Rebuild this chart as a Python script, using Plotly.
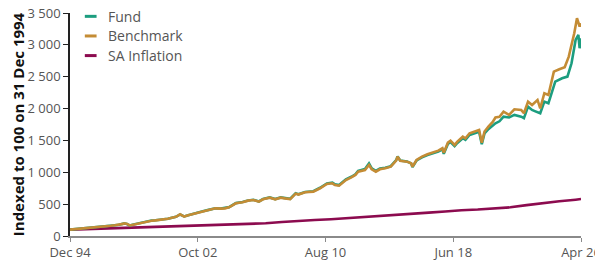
import pandas as pd
import plotly.graph_objects as go

# Months elapsed since Dec 1994 and index values
bench_months = [0, 3, 6, 9, 12, 15, 18, 21, 24, 27, 30, 33, 36, 39, 40, 42, 44, 46, 48, 51,
                54, 57, 60, 63, 66, 69, 72, 75, 78, 81, 84, 87, 90, 92, 97, 102, 107, 111, 114, 117,
                122, 127, 131, 135, 139, 142, 147, 151, 155, 158, 162, 166, 168, 173, 179, 184, 189, 193, 195, 198,
                203, 207, 210, 212, 217, 220, 222, 225, 228, 232, 236, 240, 241, 243, 248, 251, 252, 255, 259, 263,
                267, 271, 274, 275, 278, 280, 283, 285, 289, 291, 294, 298, 301, 303, 305, 308, 311, 313, 316, 319,
                323, 327, 332, 334, 337, 340, 344, 346, 349, 352, 356, 360, 364, 367, 371, 373, 375, 376]
bench_values = [100, 105, 110, 114, 120, 125, 130, 133, 140, 150, 160, 168, 175, 190, 200, 190, 165, 175, 185, 195,
                210, 225, 240, 245, 250, 262, 270, 285, 300, 340, 305, 325, 345, 356, 382, 408, 434, 430, 434, 450,
                513, 529, 555, 565, 539, 576, 602, 576, 602, 591, 580, 665, 650, 686, 696, 749, 816, 827, 800, 790,
                879, 920, 958, 1010, 1036, 1115, 1047, 1010, 1047, 1063, 1088, 1182, 1245, 1182, 1167, 1141, 1088, 1193, 1245, 1282,
                1308, 1340, 1377, 1308, 1465, 1496, 1429, 1481, 1559, 1534, 1612, 1638, 1664, 1465, 1640, 1720, 1790, 1860, 1870, 1952,
                1900, 1989, 1978, 1926, 2109, 2057, 2135, 2004, 2240, 2214, 2580, 2617, 2648, 2815, 3182, 3418, 3286, 3340]

fund_months = [0, 3, 6, 9, 12, 15, 18, 21, 24, 27, 30, 33, 36, 39, 40, 42, 44, 46, 48, 51,
               54, 57, 60, 63, 66, 69, 72, 75, 78, 81, 84, 87, 90, 92, 97, 102, 107, 111, 114, 117,
               122, 127, 131, 135, 139, 142, 147, 151, 155, 158, 162, 166, 168, 173, 179, 184, 189, 193, 195, 198,
               203, 207, 210, 212, 217, 220, 222, 225, 228, 232, 236, 240, 241, 243, 248, 251, 252, 255, 259, 263,
               267, 271, 274, 275, 278, 280, 283, 285, 289, 291, 294, 298, 301, 303, 305, 308, 311, 313, 316, 319,
               323, 327, 332, 334, 337, 340, 342, 346, 349, 352, 357, 362, 366, 369, 372, 374, 375, 376]
fund_values = [100, 106, 111, 115, 121, 126, 131, 135, 142, 152, 161, 170, 177, 192, 198, 188, 163, 176, 186, 197,
               212, 226, 242, 247, 252, 264, 272, 287, 302, 338, 307, 327, 347, 358, 384, 410, 436, 432, 437, 453,
               516, 532, 558, 568, 542, 580, 606, 580, 606, 595, 584, 670, 655, 692, 703, 757, 825, 838, 810, 800,
               890, 930, 968, 1022, 1050, 1140, 1060, 1022, 1058, 1072, 1095, 1190, 1250, 1185, 1170, 1140, 1080, 1185, 1235, 1270,
               1295, 1325, 1360, 1290, 1445, 1475, 1410, 1460, 1535, 1510, 1585, 1610, 1635, 1440, 1610, 1680, 1730, 1769, 1800, 1873,
               1860, 1900, 1873, 1850, 2030, 1978, 1960, 1926, 2109, 2083, 2423, 2476, 2502, 2711, 3077, 3156, 2947, 3104]

infl_months = [0, 12, 24, 36, 48, 60, 72, 84, 96, 108, 120, 132, 144, 156, 168, 180, 192, 204,
               216, 228, 240, 252, 264, 276, 282, 288, 300, 312, 324, 336, 348, 360, 372, 376]
infl_values = [100, 109, 116, 124, 133, 137, 145, 152, 166, 172, 180, 188, 200, 220, 240, 250, 262, 278,
               293, 310, 325, 345, 367, 385, 400, 405, 415, 428, 450, 485, 520, 545, 570, 580]

tick_months = [0, 94, 188, 282, 376]
tick_labels = ["Dec 94", "Oct 02", "Aug 10", "Jun 18", "Apr 26"]

series_names = ["Fund", "Benchmark", "SA Inflation"]
series_colors = ["#1c9d7f", "#c48c35", "#8c0b4f"]

start = pd.Timestamp("1994-12-01")


def to_dates(months):
    return [start + pd.DateOffset(months=int(m)) for m in months]


fig = go.Figure()
series = [(fund_months, fund_values), (bench_months, bench_values), (infl_months, infl_values)]
# draw inflation first, then fund, then benchmark on top
order = [2, 0, 1]
for i in order:
    months, vals = series[i]
    fig.add_trace(go.Scatter(x=to_dates(months), y=vals, mode="lines", name=series_names[i],
                             line=dict(color=series_colors[i], width=2.6), showlegend=False))

# legend drawn as short line + text
for i, (name, color) in enumerate(zip(series_names, series_colors)):
    yy = 0.985 - i * 0.088
    fig.add_shape(type="line", xref="paper", yref="paper", x0=0.029, x1=0.052, y0=yy, y1=yy,
                  line=dict(color=color, width=3))
    fig.add_annotation(text=name, xref="paper", yref="paper", x=0.072, y=yy, xanchor="left",
                       yanchor="middle", showarrow=False, borderpad=0,
                       font=dict(family="Open Sans", size=14, color="#555555"))

fig.update_layout(
    width=595, height=254,
    margin=dict(l=62, r=22, t=5, b=26, autoexpand=False),
    paper_bgcolor="white", plot_bgcolor="white",
    separators=". ",
    font=dict(family="Open Sans", size=13, color="#555555"),
)
fig.update_xaxes(
    range=[start, start + pd.DateOffset(months=376)],
    tickvals=to_dates(tick_months), ticktext=tick_labels,
    showgrid=False, zeroline=False, automargin=False, ticklabeloverflow="allow",
    showline=True, linecolor="#8a8a8a", linewidth=1.5,
    ticks="outside", ticklen=4, tickcolor="#8a8a8a",
    tickfont=dict(size=13, color="#555555"),
)
fig.update_yaxes(
    range=[0, 3500], dtick=500, separatethousands=True,
    showgrid=False, zeroline=False, automargin=False, ticklabeloverflow="allow",
    showline=True, linecolor="#222222", linewidth=1.5,
    ticks="outside", ticklen=5, tickcolor="#222222",
    tickfont=dict(size=13, color="#555555"),
    title=dict(text="<b>Indexed to 100 on 31 Dec 1994</b>", standoff=1,
               font=dict(size=15, color="#111111")),
)

fig.write_html("out.html")
